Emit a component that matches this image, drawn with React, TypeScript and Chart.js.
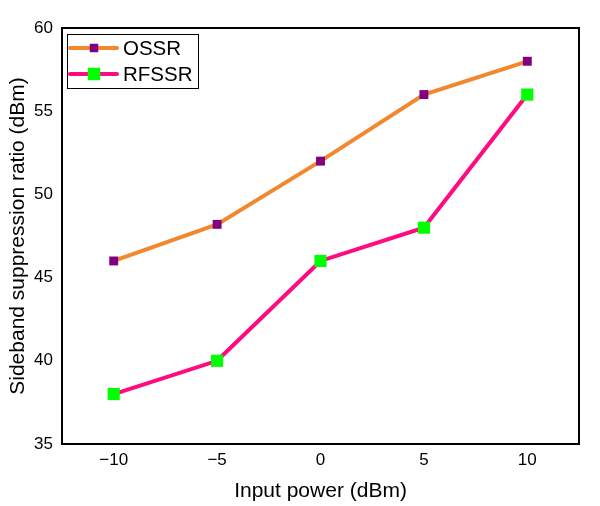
import React, { useEffect, useRef } from "react";
import { Chart, registerables } from "chart.js";

Chart.register(...registerables);

const inputPower = [-10, -5, 0, 5, 10];
const ossr = [46, 48.2, 52, 56, 58];
const rfssr = [38, 40, 46, 48, 56];
const xTicks = [-10, -5, 0, 5, 10];
const yTicks = [35, 40, 45, 50, 55, 60];

const FONT = "'Liberation Sans', Arial, sans-serif";

const frameAndLegend = {
  id: "frameAndLegend",
  afterDraw(chart: any) {
    const { ctx, chartArea } = chart;
    const { left, right, top, bottom } = chartArea;
    ctx.save();
    ctx.strokeStyle = "#000";
    ctx.lineWidth = 2;
    ctx.strokeRect(left, top, right - left, bottom - top);

    // legend
    const bx = left + 5;
    const by = top + 6;
    const bw = 131;
    const bh = 54;
    ctx.fillStyle = "#fff";
    ctx.fillRect(bx, by, bw, bh);
    ctx.lineWidth = 1;
    ctx.strokeStyle = "#000";
    ctx.strokeRect(bx + 0.5, by + 0.5, bw, bh);
    const markerSides = [8.5, 12.5];
    chart.data.datasets.forEach((ds: any, i: number) => {
      const y = by + 14 + i * 26;
      ctx.strokeStyle = ds.borderColor;
      ctx.lineWidth = 4;
      ctx.lineCap = "round";
      ctx.beginPath();
      ctx.moveTo(bx + 3, y);
      ctx.lineTo(bx + 50, y);
      ctx.stroke();
      const s = markerSides[i];
      ctx.fillStyle = ds.pointBackgroundColor;
      ctx.fillRect(bx + 27 - s / 2, y - s / 2, s, s);
      ctx.fillStyle = "#000";
      ctx.font = `20.5px ${FONT}`;
      ctx.textBaseline = "middle";
      ctx.textAlign = "left";
      ctx.fillText(ds.label, bx + 56, y + 1);
    });
    ctx.restore();
  },
};

export default function App() {
  const ref = useRef<HTMLCanvasElement | null>(null);
  useEffect(() => {
    if (!ref.current) return;
    const chart = new Chart(ref.current, {
      type: "line",
      data: {
        datasets: [
          {
            label: "OSSR",
            data: inputPower.map((x, i) => ({ x, y: ossr[i] })),
            borderColor: "#F2882E",
            borderWidth: 4,
            pointStyle: "rect",
            pointRadius: 6.3,
            pointBackgroundColor: "#800080",
            pointBorderWidth: 0,
            pointBorderColor: "#800080",
            tension: 0,
          },
          {
            label: "RFSSR",
            data: inputPower.map((x, i) => ({ x, y: rfssr[i] })),
            borderColor: "#FF0A80",
            borderWidth: 4,
            pointStyle: "rect",
            pointRadius: 8.6,
            pointBackgroundColor: "#00FF00",
            pointBorderWidth: 0,
            pointBorderColor: "#00FF00",
            tension: 0,
          },
        ],
      },
      options: {
        animation: false,
        responsive: false,
        devicePixelRatio: 1,
        layout: { padding: { left: 0, right: 21, top: 28, bottom: 0 } },
        plugins: {
          legend: { display: false },
          tooltip: { enabled: false },
        },
        scales: {
          x: {
            type: "linear",
            min: -12.5,
            max: 12.5,
            afterFit: (s: any) => {
              s.height = 62;
            },
            afterBuildTicks: (s: any) => {
              s.ticks = xTicks.map((v) => ({ value: v }));
            },
            grid: { display: false, drawTicks: false },
            border: { display: false },
            ticks: {
              padding: 6,
              color: "#000",
              font: { family: FONT, size: 17 },
              callback: (v: any) => (Number(v) < 0 ? "\u2212" + Math.abs(Number(v)) : String(v)),
            },
            title: {
              display: true,
              text: "Input power (dBm)",
              color: "#000",
              font: { family: FONT, size: 21 },
              padding: { top: 0, bottom: 2 },
            },
          },
          y: {
            min: 35,
            max: 60,
            afterFit: (s: any) => {
              s.width = 62;
            },
            afterBuildTicks: (s: any) => {
              s.ticks = yTicks.map((v) => ({ value: v }));
            },
            grid: { display: false, drawTicks: false },
            border: { display: false },
            ticks: {
              padding: 9,
              color: "#000",
              font: { family: FONT, size: 17 },
            },
            title: {
              display: true,
              text: "Sideband suppression ratio (dBm)",
              color: "#000",
              font: { family: FONT, size: 21 },
              padding: { top: 6, bottom: 0 },
            },
          },
        },
      },
      plugins: [frameAndLegend],
    });
    return () => chart.destroy();
  }, []);
  return (
    <div style={{ position: "fixed", left: 0, top: 0, width: 600, height: 506, background: "#fff" }}>
      <canvas ref={ref} width={600} height={506} style={{ width: 600, height: 506 }} />
    </div>
  );
}
